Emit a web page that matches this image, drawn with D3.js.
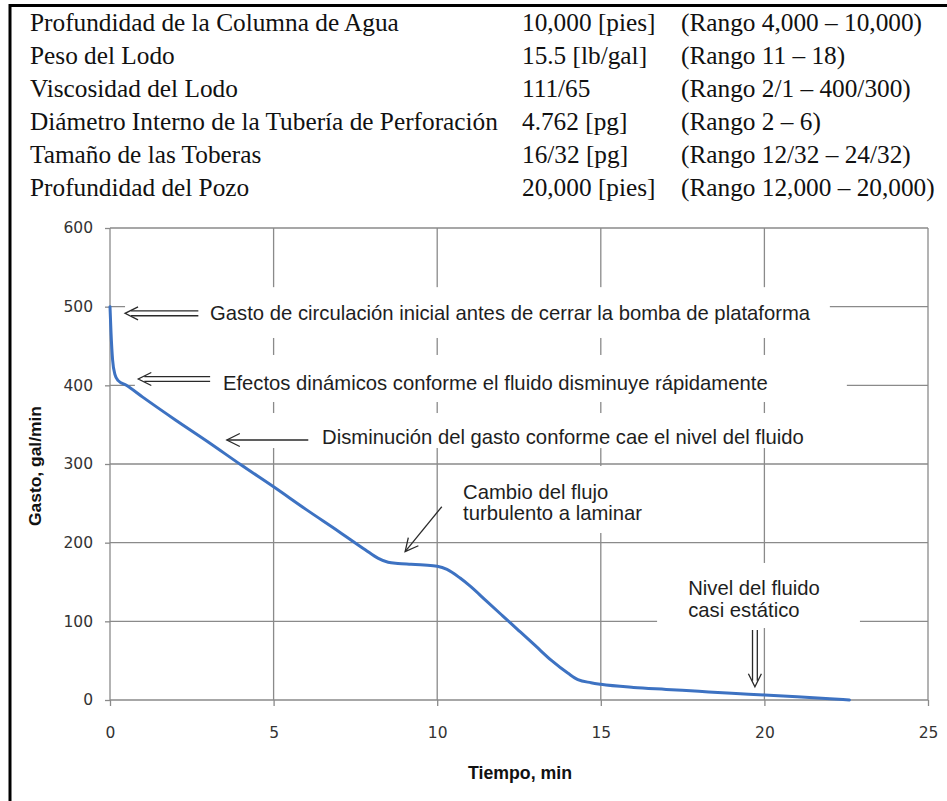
<!DOCTYPE html>
<html><head><meta charset="utf-8">
<script src="https://cdn.jsdelivr.net/npm/d3@7"></script>
<style>html,body{margin:0;padding:0;background:#fff;}svg{display:block;}</style>
</head><body>
<script>
// ---- data ----
const tableLabels = ["Profundidad de la Columna de Agua","Peso del Lodo","Viscosidad del Lodo","Diámetro Interno de la Tubería de Perforación","Tamaño de las Toberas","Profundidad del Pozo"];
const tableValues = ["10,000 [pies]","15.5 [lb/gal]","111/65","4.762 [pg]","16/32 [pg]","20,000 [pies]"];
const tableRanges = ["(Rango 4,000 – 10,000)","(Rango 11 – 18)","(Rango 2/1 – 400/300)","(Rango 2 – 6)","(Rango 12/32 – 24/32)","(Rango 12,000 – 20,000)"];
const timeMin = [0,0.03,0.08,0.15,0.25,0.5,1,2,3,4,5,6,7,7.8,8.2,8.5,8.8,9.2,9.6,10,10.3,10.7,11,11.5,12,12.5,13,13.5,14,14.3,14.7,15,16,17,18,19,20,21,22,22.6];
const gastoGpm = [500,468,432,414,406,400,385,356,328,299,271,242,214,191,180,175,173.5,172.5,171.5,170,166,155,145,126,107,88,69,50,34,26,22,20,16,13.5,11,8.5,6.4,4,1.5,0];
const xTicks = [0,5,10,15,20,25];
const yTicks = [0,100,200,300,400,500,600];
const xTitle = "Tiempo, min";
const yTitle = "Gasto, gal/min";
const notes = ["Gasto de circulación inicial antes de cerrar la bomba de plataforma",
  "Efectos dinámicos conforme el fluido disminuye rápidamente",
  "Disminución del gasto conforme cae el nivel del fluido",
  ["Cambio del flujo","turbulento a laminar"],
  ["Nivel del fluido","casi estático"]];

// ---- setup ----
const W = 947, H = 801;
const svg = d3.select("body").append("svg").attr("width", W).attr("height", H);
const x = d3.scaleLinear().domain([0,25]).range([110,928]);
const y = d3.scaleLinear().domain([0,600]).range([700,228]);

function fitSize(family, weight, str, target){
  const t = svg.append("text").attr("font-family", family).attr("font-weight", weight).attr("font-size", 100).text(str);
  const w = t.node().getComputedTextLength(); t.remove();
  return 100 * target / w;
}

// border
svg.append("line").attr("x1",10).attr("x2",W).attr("y1",5.5).attr("y2",5.5).attr("stroke","#000").attr("stroke-width",3);
svg.append("line").attr("x1",10).attr("x2",10).attr("y1",4).attr("y2",H).attr("stroke","#000").attr("stroke-width",3);

// table
const serif = "'Liberation Serif', 'DejaVu Serif', serif";
const tfs = fitSize(serif, "normal", tableLabels[3], 468);
const tg = svg.append("g").attr("font-family", serif).attr("font-size", tfs).attr("fill", "#111");
const cols = [[30, tableLabels],[522, tableValues],[681, tableRanges]];
cols.forEach(([cx, arr]) => {
  tg.selectAll(null).data(arr).enter().append("text")
    .attr("x", cx).attr("y", (d,i) => 31 + i*32.9).text(d => d);
});

// grid
const gridColor = "#8a8a8a";
const grid = svg.append("g").attr("stroke", gridColor).attr("stroke-width", 1.3);
grid.selectAll(null).data(yTicks.filter(v => v > 0)).enter().append("line")
  .attr("x1", x(0)).attr("x2", x(25)).attr("y1", d => y(d)).attr("y2", d => y(d));
grid.selectAll(null).data(xTicks.filter(v => v > 0)).enter().append("line")
  .attr("y1", y(600)).attr("y2", y(0)).attr("x1", d => x(d)).attr("x2", d => x(d));

// axes
const sans = "'DejaVu Sans', sans-serif";
const ax = svg.append("g").attr("transform", `translate(0,${y(0)})`)
  .call(d3.axisBottom(x).tickValues(xTicks).tickSize(6).tickPadding(21).tickFormat(d3.format("d")));
const ay = svg.append("g").attr("transform", `translate(${x(0)},0)`)
  .call(d3.axisLeft(y).tickValues(yTicks).tickSize(5).tickPadding(12).tickFormat(d3.format("d")));
[ax, ay].forEach(g => {
  g.select(".domain").attr("stroke", gridColor).attr("stroke-width", 1.3);
  g.selectAll(".tick line").attr("stroke", gridColor).attr("stroke-width", 1.3);
  g.selectAll(".tick text").attr("font-family", sans).attr("font-size", 15.5).attr("fill", "#333");
});
ay.select(".domain").attr("d", `M0,${y(600)}V${y(0)}`);
ax.select(".domain").attr("d", `M${x(0)},0H${x(25)}`);

// axis titles
const boldSans = "'Liberation Sans', Arial, sans-serif";
const xfs = fitSize(boldSans, "bold", xTitle, 104);
svg.append("text").attr("x", 520).attr("y", 773).attr("text-anchor","middle").attr("dominant-baseline","central")
  .attr("font-family", boldSans).attr("font-weight","bold").attr("font-size", xfs).attr("fill","#111").text(xTitle);
const yfs = fitSize(boldSans, "bold", yTitle, 120);
svg.append("text").attr("transform", "translate(35,466) rotate(-90)").attr("text-anchor","middle").attr("dominant-baseline","central")
  .attr("font-family", boldSans).attr("font-weight","bold").attr("font-size", yfs).attr("fill","#111").text(yTitle);

// white boxes behind annotations (data coords)
const boxes = [[0.46,22.0,524.8,460.2],[0.76,22.52,438.6,378.8],[3.2,21.55,364.8,320.3],[10.54,16.5,297.5,212.3],[16.72,22.92,174.2,91.5]];
svg.append("g").selectAll("rect").data(boxes).enter().append("rect")
  .attr("x", d => x(d[0])).attr("width", d => x(d[1]) - x(d[0]))
  .attr("y", d => y(d[2])).attr("height", d => y(d[3]) - y(d[2])).attr("fill", "#fff");

// curve
const pts = timeMin.map((t,i) => [t, gastoGpm[i]]);
svg.append("path").datum(pts)
  .attr("d", d3.line().x(d => x(d[0])).y(d => y(d[1])).curve(d3.curveMonotoneX))
  .attr("fill","none").attr("stroke","#3d72c2").attr("stroke-width",3).attr("stroke-linejoin","round").attr("stroke-linecap","round");

// annotation texts
const afs = fitSize(boldSans, "normal", notes[0], 600);
const ag = svg.append("g").attr("font-family", boldSans).attr("font-size", afs).attr("fill","#1e1e1e");
const textPos = [[3.06,[492]],[3.45,[403]],[6.48,[334.5]],[10.79,[264.4,237.7]],[17.67,[142.4,114.4]]];
notes.forEach((n,i) => {
  const lines = Array.isArray(n) ? n : [n];
  lines.forEach((ln,j) => {
    ag.append("text").attr("x", x(textPos[i][0])).attr("y", y(textPos[i][1][j]))
      .attr("dominant-baseline","central").text(ln);
  });
});

// arrows: [tail(t,q), tip(t,q), double]
const arrows = [[[2.70,491.5],[0.46,491.5],true],[[3.06,408],[0.865,408],true],[[6.06,330.5],[3.57,330.5],false],
  [[10.14,245.7],[9.02,188.5],false],[[19.71,89],[19.71,16.9],true]];
const arG = svg.append("g").attr("stroke","#2a2a2a").attr("stroke-width",1.3).attr("fill","none");
arrows.forEach(([a,b,dbl]) => {
  const x1 = x(a[0]), y1 = y(a[1]), x2 = x(b[0]), y2 = y(b[1]);
  const L = Math.hypot(x2-x1, y2-y1), ux = (x2-x1)/L, uy = (y2-y1)/L, px = -uy, py = ux;
  if (dbl) {
    [-2.4, 2.4].forEach(o => arG.append("line")
      .attr("x1", x1 + px*o).attr("y1", y1 + py*o).attr("x2", x2 - ux*6 + px*o).attr("y2", y2 - uy*6 + py*o));
  } else {
    arG.append("line").attr("x1", x1).attr("y1", y1).attr("x2", x2).attr("y2", y2);
  }
  const bx = x2 - ux*13, by = y2 - uy*13;
  arG.append("path").attr("d", `M${bx+px*6.5},${by+py*6.5}L${x2},${y2}L${bx-px*6.5},${by-py*6.5}`);
});
</script>
</body></html>
